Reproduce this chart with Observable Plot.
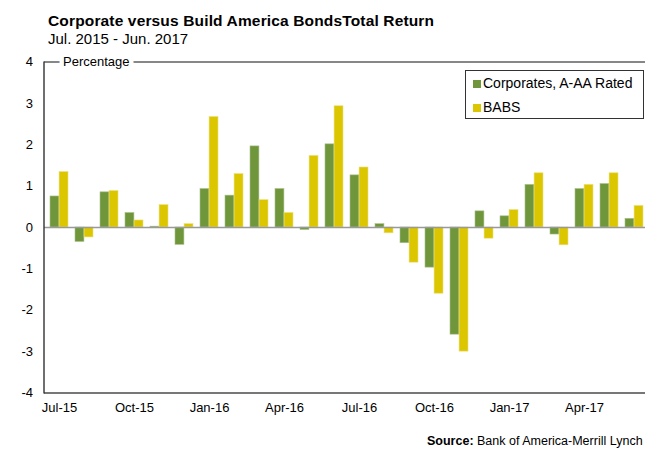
<!DOCTYPE html>
<html>
<head>
<meta charset="utf-8">
<script src="https://cdn.jsdelivr.net/npm/d3@7"></script>
<script src="https://cdn.jsdelivr.net/npm/@observablehq/plot@0.6"></script>
<style>
  html, body { margin: 0; padding: 0; width: 645px; height: 449px; overflow: hidden; background: #fff; }
  body { position: relative; font-family: "Liberation Sans", Arial, sans-serif; color: #000; }
  #title { position: absolute; left: 48px; top: 12px; font-size: 15.5px; line-height: 17px; font-weight: bold; letter-spacing: 0.15px; white-space: nowrap; }
  #subtitle { position: absolute; left: 48px; top: 29.5px; font-size: 15px; line-height: 17px; white-space: nowrap; }
  #chart { position: absolute; left: 0; top: 40px; width: 650px; }
  #chart svg { max-width: none !important; }
  #legend { position: absolute; left: 465px; top: 70px; width: 177px; height: 47px; border: 1.3px solid #333; background: #fff; font-size: 14px; }
  .li { position: absolute; left: 7px; white-space: nowrap; line-height: 16px; }
  .sw { display: inline-block; width: 8px; height: 8px; margin-right: 2px; vertical-align: 0px; }
  #source { position: absolute; left: 427px; top: 434px; font-size: 12.5px; line-height: 14px; white-space: nowrap; }
</style>
</head>
<body>
<div id="title">Corporate versus Build America BondsTotal Return</div>
<div id="subtitle">Jul. 2015 - Jun. 2017</div>
<div id="chart"></div>
<div id="legend"></div>
<div id="source"><b>Source:</b> Bank of America-Merrill Lynch</div>
<script>
const months = ["Jul-15","Aug-15","Sep-15","Oct-15","Nov-15","Dec-15","Jan-16","Feb-16","Mar-16","Apr-16","May-16","Jun-16",
                "Jul-16","Aug-16","Sep-16","Oct-16","Nov-16","Dec-16","Jan-17","Feb-17","Mar-17","Apr-17","May-17","Jun-17"];
const corporates = [0.75,-0.35,0.85,0.35,0.02,-0.42,0.93,0.77,1.96,0.93,-0.06,2.01,
                    1.26,0.08,-0.38,-0.97,-2.59,0.39,0.27,1.03,-0.17,0.93,1.05,0.21];
const babs = [1.34,-0.24,0.88,0.17,0.54,0.08,2.67,1.29,0.66,0.35,1.73,2.93,
              1.45,-0.14,-0.85,-1.60,-3.00,-0.27,0.42,1.31,-0.43,1.03,1.31,0.52];
const seriesNames = ["Corporates, A-AA Rated", "BABS"];
const seriesColors = ["#70963c", "#dbc600"];
const xTickLabels = ["Jul-15","Oct-15","Jan-16","Apr-16","Jul-16","Oct-16","Jan-17","Apr-17"];
const yTicks = [-4,-3,-2,-1,0,1,2,3,4];
const yLabel = "Percentage";

const corpData = months.map((m, i) => ({month: m, value: corporates[i]}));
const babsData = months.map((m, i) => ({month: m, value: babs[i]}));

const W = 650, marginLeft = 44, marginRight = 0.5;
const padIn = 0.28;
const step = (W - marginLeft - marginRight) / months.length;
const half = step * (1 - padIn) / 2;

const plot = Plot.plot({
  width: W,
  height: 380,
  marginLeft,
  marginRight,
  marginTop: 21.5,
  marginBottom: 27.5,
  style: {fontFamily: "'Liberation Sans', Arial, sans-serif", fontSize: "13px", color: "#000", background: "transparent", overflow: "visible", maxWidth: "none"},
  x: {type: "band", domain: months, paddingInner: padIn, paddingOuter: padIn / 2, axis: null, label: null},
  y: {domain: [-4, 4], axis: null, label: null},
  marks: [
    Plot.ruleY([4], {stroke: "#111", strokeWidth: 1.2}),
    Plot.barY(corpData, {x: "month", y: "value", fill: seriesColors[0], stroke: "#a9c08a", strokeWidth: 0.6, insetRight: half}),
    Plot.barY(babsData, {x: "month", y: "value", fill: seriesColors[1], stroke: "#eadf7a", strokeWidth: 0.6, insetLeft: half}),
    Plot.ruleY([0], {stroke: "#999", strokeWidth: 1.3}),
    Plot.ruleY([-4], {stroke: "#777", strokeWidth: 2}),
    Plot.axisY({ticks: yTicks, tickSize: 0, tickPadding: 11.5, tickFormat: d => String(d), fill: "#000", fontSize: 13, label: null}),
    Plot.axisX({ticks: xTickLabels, tickSize: 0, tickPadding: 10, fill: "#000", fontSize: 13, label: null}),
    Plot.text([yLabel], {frameAnchor: "top-left", dx: 18.5, text: d => d, textAnchor: "start", lineAnchor: "middle",
                         fill: "#000", stroke: "white", strokeWidth: 9, fontSize: 13})
  ]
});
document.getElementById("chart").appendChild(plot);

// left axis line drawn along the y scale
const ys = plot.scale("y");
d3.select(plot).append("line")
  .attr("x1", marginLeft).attr("x2", marginLeft)
  .attr("y1", ys.apply(4)).attr("y2", ys.apply(-4) + 1)
  .attr("stroke", "#333").attr("stroke-width", 1.4);

const legend = document.getElementById("legend");
seriesNames.forEach((name, i) => {
  const d = document.createElement("div");
  d.className = "li";
  d.style.top = (i === 0 ? 4 : 28) + "px";
  d.innerHTML = `<span class="sw" style="background:${seriesColors[i]}"></span>${name}`;
  legend.appendChild(d);
});
</script>
</body>
</html>
